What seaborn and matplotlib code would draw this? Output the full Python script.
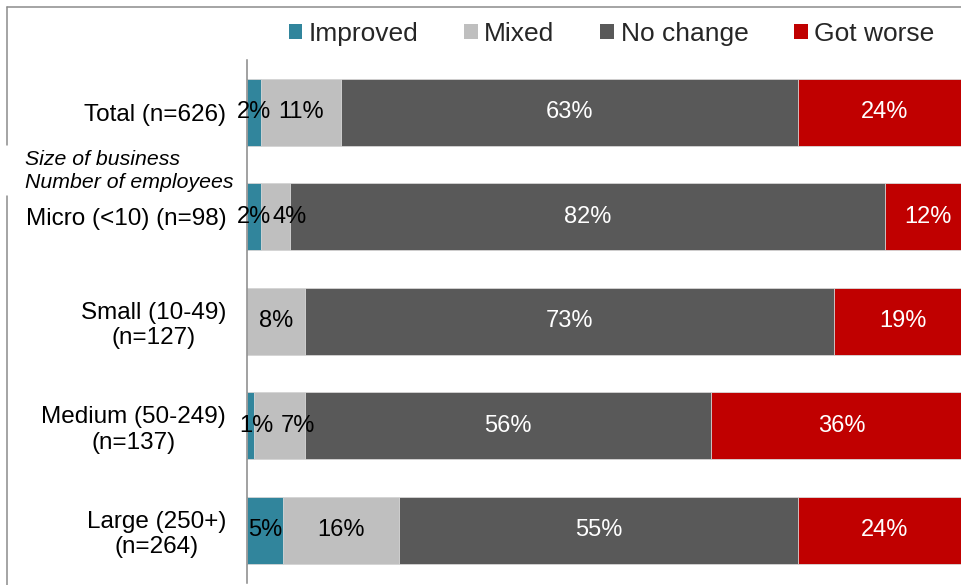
import matplotlib
matplotlib.use("Agg")
import matplotlib.pyplot as plt
import seaborn as sns
import numpy as np
import pandas as pd
from matplotlib.patches import Patch
from matplotlib.lines import Line2D

categories = ["Total (n=626)", "Micro (<10) (n=98)", "Small (10-49)\n(n=127)",
              "Medium (50-249)\n(n=137)", "Large (250+)\n(n=264)"]
series_names = ["Improved", "Mixed", "No change", "Got worse"]
improved = [2, 2, 0, 1, 5]
mixed = [11, 4, 8, 7, 16]
no_change = [63, 82, 73, 56, 55]
got_worse = [24, 12, 19, 36, 24]
colors = ["#31859C", "#BFBFBF", "#595959", "#C00000"]
label_colors = ["black", "black", "white", "white"]
# small manual nudges (points) of crowded labels, as in the original
label_nudge = {(1, 1): 10, (0, 3): 4, (1, 3): 13}

sns.set_theme(style="white")
plt.rcParams['font.family'] = ['Liberation Sans', 'DejaVu Sans']

fig = plt.figure(figsize=(9.61, 5.85), dpi=100)
W, H = 961, 585
ax = fig.add_axes([247 / W, 2.5 / H, 1 - 247 / W, (582.5 - 60) / H])

values = np.array([improved, mixed, no_change, got_worse], dtype=float)
cum = np.cumsum(values, axis=0)

for i in range(len(series_names) - 1, -1, -1):
    df = pd.DataFrame({"cat": categories, "val": cum[i]})
    sns.barplot(data=df, x="val", y="cat", order=categories, orient="h",
                color=colors[i], saturation=1, width=0.64,
                edgecolor="#d9d9d9", linewidth=0.6, ax=ax)

for i in range(len(series_names)):
    for j in range(len(categories)):
        v = values[i, j]
        if v > 0:
            ax.annotate(f"{int(v)}%", xy=(cum[i, j] - v / 2, j),
                        xytext=(label_nudge.get((i, j), 0), 0), textcoords="offset points",
                        ha="center", va="center", fontsize=17, color=label_colors[i])

ax.set_xlim(0, 98.5)
ax.set_ylim(len(categories) - 0.5, -0.5)
ax.set_xlabel("")
ax.set_ylabel("")
ax.set_xticks([])
ax.tick_params(axis="y", length=0, pad=15, labelsize=17.5, labelcolor="black")
for lbl in ax.get_yticklabels():
    lbl.set_multialignment("center")
for s in ["top", "right", "bottom"]:
    ax.spines[s].set_visible(False)
ax.spines["left"].set_color("#888888")
ax.spines["left"].set_linewidth(1.1)

frame_col = "#8c8c8c"
fig.add_artist(Line2D([7 / W, 1], [1 - 7 / H, 1 - 7 / H], transform=fig.transFigure,
                      color=frame_col, lw=1.1))
fig.add_artist(Line2D([7 / W, 7 / W], [1 - 7 / H, 1 - 145 / H], transform=fig.transFigure,
                      color=frame_col, lw=1.1))
fig.add_artist(Line2D([7 / W, 7 / W], [1 - 196 / H, 0], transform=fig.transFigure,
                      color=frame_col, lw=1.1))

fig.text(25 / W, 1 - 171 / H, "Size of business\nNumber of employees", fontsize=15.3,
         style="italic", ha="left", va="center", color="black", linespacing=1.3)

handles = [Patch(facecolor=c, edgecolor="none", label=n) for c, n in zip(colors, series_names)]
fig.legend(handles=handles, loc="center", bbox_to_anchor=(611.5 / W, 1 - 34 / H), ncol=4,
           frameon=False, fontsize=19, handlelength=0.53, handleheight=0.53,
           handletextpad=0.23, columnspacing=1.74, borderpad=0)

fig.savefig("out.png", dpi=100)
